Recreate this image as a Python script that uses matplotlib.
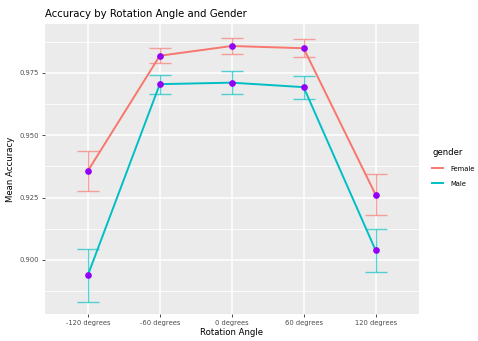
import numpy as np
import matplotlib.pyplot as plt
from matplotlib.ticker import MultipleLocator

angles = ["-120 degrees", "-60 degrees", "0 degrees", "60 degrees", "120 degrees"]
female_mean = [0.9357, 0.9819, 0.9858, 0.9849, 0.9262]
female_lo = [0.9277, 0.9790, 0.9825, 0.9813, 0.9179]
female_hi = [0.9437, 0.9849, 0.9892, 0.9885, 0.9345]
male_mean = [0.8939, 0.9705, 0.9711, 0.9693, 0.9039]
male_lo = [0.8831, 0.9667, 0.9665, 0.9647, 0.8953]
male_hi = [0.9043, 0.9741, 0.9758, 0.9737, 0.9123]

fig = plt.figure(figsize=(4.78, 3.41), dpi=100)
ax = fig.add_axes([0.0935, 0.0783, 0.7825, 0.8504])
ax.set_facecolor("#EBEBEB")
x = np.arange(len(angles))

series = [("Female", "#F8766D", female_mean, female_lo, female_hi),
          ("Male", "#00BFC4", male_mean, male_lo, male_hi)]
for name, col, m, lo, hi in series:
    m = np.array(m)
    err = [m - np.array(lo), np.array(hi) - m]
    ax.errorbar(x, m, yerr=err, fmt="none", ecolor=col, alpha=0.65,
                elinewidth=1.0, capsize=7.8, capthick=1.0, zorder=3)
    ax.plot(x, m, color=col, lw=1.4, label=name, zorder=4)
    ax.plot(x, m, "o", color="#9400F5", ms=3.8, zorder=5)

ax.set_xlim(-0.6, 4.6)
ax.set_ylim(0.8782, 0.9945)
ax.set_xticks(x)
ax.set_xticklabels(angles)
ax.yaxis.set_major_locator(MultipleLocator(0.025))
ax.yaxis.set_minor_locator(MultipleLocator(0.0125))
ax.yaxis.set_major_formatter(plt.FormatStrFormatter("%.3f"))
ax.grid(which="major", color="white", lw=1.1, zorder=0)
ax.grid(which="minor", axis="y", color="white", lw=0.55, zorder=0)
ax.set_axisbelow(True)
for s in ax.spines.values():
    s.set_visible(False)
ax.tick_params(axis="both", which="major", labelsize=4.9, colors="#4D4D4D",
               length=2.2, width=0.7, pad=2)
ax.tick_params(axis="y", which="minor", length=0)
ax.set_xlabel("Rotation Angle", fontsize=6.1, labelpad=1)
ax.set_ylabel("Mean Accuracy", fontsize=6.1, labelpad=3)
ax.set_title("Accuracy by Rotation Angle and Gender", fontsize=7.3, loc="left", pad=5)

leg = ax.legend(loc="upper left", bbox_to_anchor=(1.02, 0.595), frameon=False,
                title="gender", fontsize=4.9, title_fontsize=6.1,
                handlelength=1.6, handletextpad=1.0, labelspacing=1.3)
leg._legend_box.align = "left"
for h in leg.legend_handles:
    h.set_linewidth(1.4)

fig.savefig("out.png", dpi=100)
